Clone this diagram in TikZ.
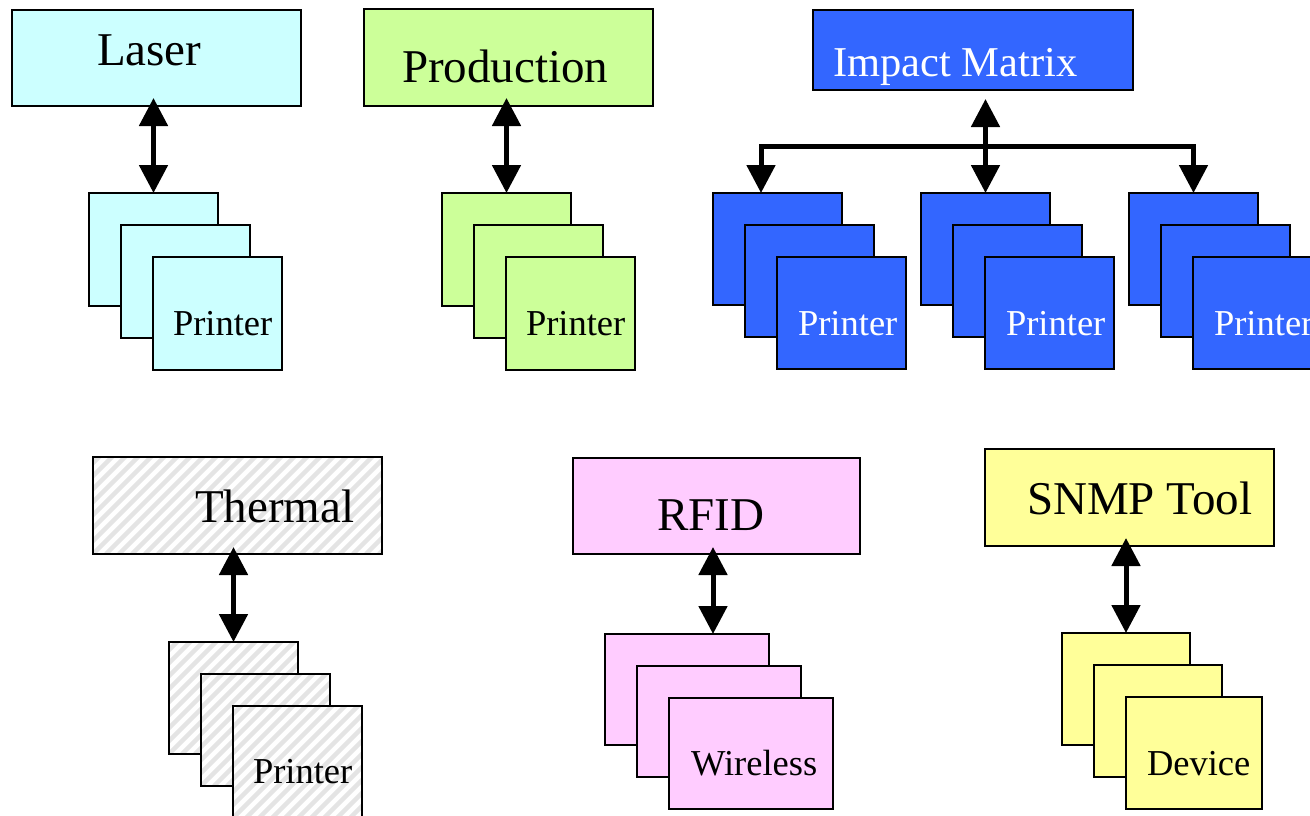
\documentclass[tikz,border=0pt]{standalone}
\usepackage{fontspec}
\setmainfont{Liberation Serif}
\usetikzlibrary{arrows.meta}
\definecolor{laserc}{HTML}{CCFFFF}
\definecolor{prodc}{HTML}{CCFF99}
\definecolor{impc}{HTML}{3366FF}
\definecolor{rfidc}{HTML}{FFCCFF}
\definecolor{snmpc}{HTML}{FFFF99}
\definecolor{hatchc}{HTML}{E4E4E4}
\begin{document}
\begin{tikzpicture}[x=1pt,y=-1pt,
  box/.style={draw=black, line width=2pt, rectangle, inner sep=0pt, outer sep=0pt, anchor=north west},
  titlebox/.style={box, minimum width=289pt, minimum height=97pt},
  sbox/.style={box, minimum width=129pt, minimum height=112pt},
  ttl/.style={anchor=base west, inner sep=0pt, outer sep=0pt, font=\fontsize{47}{50}\selectfont},
  lbl/.style={anchor=base west, inner sep=0pt, outer sep=0pt, font=\fontsize{36.5}{40}\selectfont},
  dbl/.style={line width=5pt, line join=miter, {Triangle[width=28pt,length=28pt]}-{Triangle[width=28pt,length=28pt]}},
  hatch/.style={fill=white, path picture={\foreach \k in {-45,...,45} \draw[hatchc, line width=4.5pt] (path picture bounding box.south west) ++({\k*13pt},0pt) -- ++(500pt,500pt);}},
]
\clip (0,0) rectangle (1310,815);
\fill[white] (0,0) rectangle (1310,815);

% ---------- Laser ----------
\node[titlebox, minimum height=96pt, fill=laserc] (laser) at (12,10) {};
\node[ttl] (laserT) at (97,65) {Laser};
\node[sbox, minimum height=113pt, fill=laserc] (lsA) at (89,193) {};
\node[sbox, minimum height=113pt, fill=laserc] (lsB) at (121,225) {};
\node[sbox, minimum height=113pt, fill=laserc] (lsC) at (153,257) {};
\node[lbl] (lsT) at (173,335) {Printer};
\draw[dbl] ([yshift=8pt]laser.south -| lsA.north) -- (lsA.north);

% ---------- Production ----------
\node[titlebox, fill=prodc] (prod) at (364,9) {};
\node[ttl] (prodT) at (402,82) {Production};
\node[sbox, minimum height=113pt, fill=prodc] (prA) at (442,193) {};
\node[sbox, minimum height=113pt, fill=prodc] (prB) at (474,225) {};
\node[sbox, minimum height=113pt, fill=prodc] (prC) at (506,257) {};
\node[lbl] (prT) at (526,335) {Printer};
\draw[dbl] ([yshift=8pt]prod.south -| prA.north) -- (prA.north);

% ---------- Impact Matrix ----------
\node[box, minimum width=320pt, minimum height=80pt, fill=impc] (impact) at (813,10) {};
\node[ttl, text=white, font=\fontsize{42.5}{46}\selectfont] (impactT) at (833,76) {Impact Matrix};
\node[sbox, fill=impc] (imA) at (713,193) {};
\node[sbox, fill=impc] (imA2) at (745,225) {};
\node[sbox, fill=impc] (imA3) at (777,257) {};
\node[lbl, text=white] (imAT) at (798,335) {Printer};
\node[sbox, fill=impc] (imB) at (921,193) {};
\node[sbox, fill=impc] (imB2) at (953,225) {};
\node[sbox, fill=impc] (imB3) at (985,257) {};
\node[lbl, text=white] (imBT) at (1006,335) {Printer};
\node[sbox, fill=impc] (imC) at (1129,193) {};
\node[sbox, fill=impc] (imC2) at (1161,225) {};
\node[sbox, fill=impc] (imC3) at (1193,257) {};
\node[lbl, text=white] (imCT) at (1214,335) {Printer};
\coordinate (hL) at (761,146);
\coordinate (hR) at (imC.north |- hL);
\draw[dbl] (hL |- imA.north) -- (hL) -- (hR) -- (imC.north);
\draw[dbl] ([yshift=-9pt]impact.south -| imB.north) -- (imB.north);

% ---------- Thermal ----------
\node[titlebox, hatch] (thermal) at (93,457) {};
\node[ttl] (thermalT) at (195,522) {Thermal};
\node[sbox, hatch] (thA) at (169,642) {};
\node[sbox, hatch] (thB) at (201,674) {};
\node[sbox, hatch] (thC) at (233,706) {};
\node[lbl] (thT) at (253,783) {Printer};
\draw[dbl] ([yshift=7pt]thermal.south -| thA.north) -- (thA.north);

% ---------- RFID ----------
\node[titlebox, minimum width=287pt, minimum height=96pt, fill=rfidc] (rfid) at (573,458) {};
\node[ttl] (rfidT) at (657,530) {RFID};
\node[sbox, minimum width=164pt, minimum height=111pt, fill=rfidc] (rfA) at (605,634) {};
\node[sbox, minimum width=164pt, minimum height=111pt, fill=rfidc] (rfB) at (637,666) {};
\node[sbox, minimum width=164pt, minimum height=111pt, fill=rfidc] (rfC) at (669,698) {};
\node[lbl] (rfT) at (691,775) {Wireless};
\coordinate (rfx) at ([xshift=26pt]rfA.north);
\draw[dbl] ([yshift=7pt]rfid.south -| rfx) -- (rfx);

% ---------- SNMP Tool ----------
\node[titlebox, fill=snmpc] (snmp) at (985,449) {};
\node[ttl] (snmpT) at (1027,514) {SNMP Tool};
\node[sbox, minimum width=128pt, fill=snmpc] (snA) at (1062,633) {};
\node[sbox, minimum width=128pt, fill=snmpc] (snB) at (1094,665) {};
\node[sbox, minimum width=136pt, fill=snmpc] (snC) at (1126,697) {};
\node[lbl] (snT) at (1147,775) {Device};
\draw[dbl] ([yshift=8pt]snmp.south -| snA.north) -- (snA.north);
\end{tikzpicture}
\end{document}
